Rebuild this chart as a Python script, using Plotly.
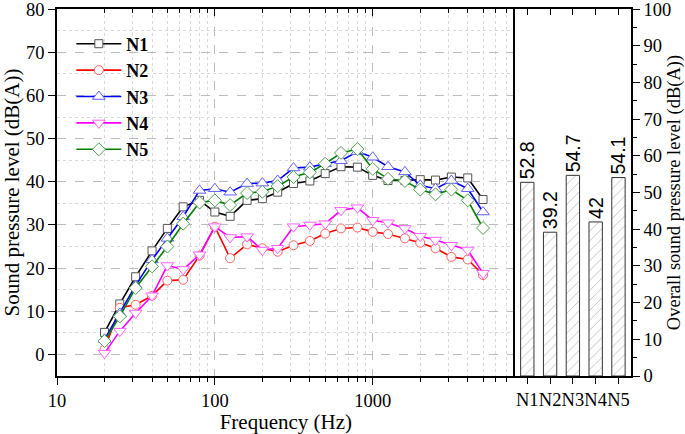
import plotly.graph_objects as go

freq = [20, 25, 31.5, 40, 50, 63, 80, 100, 125, 160, 200, 250, 315, 400, 500,
        630, 800, 1000, 1250, 1600, 2000, 2500, 3150, 4000, 5000]
n1 = [5.1, 11.7, 18.0, 24.0, 29.2, 34.2, 35.7, 33.0, 32.0, 35.7, 36.1, 37.6, 39.6, 40.2, 41.9,
      43.5, 43.4, 41.5, 40.3, 40.3, 40.5, 40.4, 41.1, 40.9, 35.9]
n2 = [1.2, 10.8, 11.5, 13.6, 17.1, 17.3, 22.9, 29.6, 22.3, 25.5, 24.6, 23.8, 25.3, 26.3, 28.0,
      29.2, 29.4, 28.4, 27.9, 26.9, 25.9, 24.6, 22.6, 22.0, 18.4]
n3 = [3.5, 9.5, 16.0, 21.9, 26.9, 31.9, 38.0, 38.4, 37.6, 39.6, 39.7, 40.3, 43.2, 43.4, 44.2,
      44.9, 47.0, 45.7, 43.5, 42.3, 39.2, 38.4, 40.3, 38.4, 33.0]
n4 = [0.3, 5.4, 9.6, 13.6, 20.6, 19.7, 23.1, 29.6, 27.1, 27.3, 24.2, 24.6, 29.6, 30.0, 30.3,
      33.4, 34.0, 31.1, 30.5, 29.2, 27.4, 26.5, 25.3, 24.2, 18.8]
n5 = [3.1, 8.8, 15.4, 20.4, 25.0, 30.3, 35.2, 35.7, 34.6, 37.4, 37.7, 39.0, 41.1, 42.2, 44.2,
      46.7, 47.6, 43.0, 40.7, 40.2, 38.2, 37.1, 38.2, 35.7, 29.3]

names = ["N1", "N2", "N3", "N4", "N5"]
overall = [52.8, 39.2, 54.7, 42, 54.1]

series = [n1, n2, n3, n4, n5]
line_colors = ["#000000", "#ff0000", "#0000ff", "#ff00ff", "#008000"]
marker_colors = ["#555555", "#ff6060", "#6060ff", "#ff60ff", "#50a050"]
symbols = ["square", "circle", "triangle-up", "triangle-down", "diamond"]
sizes = [8, 9, 11, 11, 10]

x_major = [10, 100, 1000]
x_minor = [d * m for m in (10, 100, 1000) for d in range(2, 10) if d * m < 8000]

SERIF = "Liberation Serif"
SANS = "Liberation Sans"

fig = go.Figure()

for nm, ys, lc, mc, sym, sz in zip(names, series, line_colors, marker_colors, symbols, sizes):
    fig.add_trace(go.Scatter(
        x=freq, y=ys, name=nm, mode="lines+markers",
        line=dict(color=lc, width=1.6),
        marker=dict(symbol=sym, size=sz, color="white", line=dict(color=mc, width=1)),
        xaxis="x", yaxis="y", cliponaxis=False,
    ))

fig.add_trace(go.Bar(
    x=names, y=overall, xaxis="x2", yaxis="y2", showlegend=False,
    text=[str(v) for v in overall], textposition="outside", textangle=-90,
    constraintext="none",
    textfont=dict(family=SANS, size=19.5, color="black"),
    marker=dict(color="white", line=dict(color="#333333", width=1),
                pattern=dict(shape="/", fgcolor="#777777", bgcolor="white", size=7, solidity=0.12)),
    cliponaxis=False,
))

# empty helper traces for the inward top ticks
fig.add_trace(go.Scatter(x=[], y=[], xaxis="x3", yaxis="y", showlegend=False, hoverinfo="skip"))
fig.add_trace(go.Scatter(x=[], y=[], xaxis="x4", yaxis="y2", showlegend=False, hoverinfo="skip"))

split = 0.7975
axis_common = dict(showline=True, linecolor="black", linewidth=1.6, tickcolor="black",
                   tickwidth=1.4, automargin=False, ticklabeloverflow="allow",
                   tickfont=dict(family=SERIF, size=18.5, color="black"))

fig.update_layout(
    width=685, height=434,
    margin=dict(l=57, r=54, t=9, b=58),
    paper_bgcolor="white", plot_bgcolor="white",
    font=dict(family=SERIF, size=18, color="black"),
    bargap=0.415,
    showlegend=True,
    legend=dict(x=0.025, y=0.955, xanchor="left", yanchor="top",
                bgcolor="rgba(0,0,0,0)", font=dict(family=SERIF, size=18, color="black", weight="bold"),
                tracegroupgap=0, itemwidth=45),
    xaxis=dict(
        type="log", range=[1, 3.9], domain=[0, split], anchor="y",
        tickmode="array", tickvals=x_major, ticktext=[str(v) for v in x_major],
        ticks="outside", ticklen=7, mirror=True,
        showgrid=True, gridcolor="#bdbdbd", griddash="dash", gridwidth=1,
        minor=dict(tickmode="array", tickvals=x_minor, ticks="outside", ticklen=4,
                   tickcolor="black", showgrid=True, gridcolor="#d9d9d9", griddash="dot"),
        title=dict(text="Frequency (Hz)", font=dict(family=SERIF, size=21), standoff=6),
        zeroline=False, **axis_common,
    ),
    xaxis3=dict(
        type="log", range=[1, 3.9], overlaying="x", side="top", anchor="y",
        tickmode="array", tickvals=x_major, showticklabels=False,
        ticks="inside", ticklen=7, tickcolor="black", tickwidth=1.4, showgrid=False,
        minor=dict(tickmode="array", tickvals=x_minor, ticks="inside", ticklen=4,
                   tickcolor="black", showgrid=False),
        showline=False, zeroline=False, automargin=False,
    ),
    yaxis=dict(
        range=[-5, 80.05], domain=[0, 1], anchor="x",
        tick0=0, dtick=10, ticks="outside", ticklen=7, mirror=False,
        showgrid=True, gridcolor="#bdbdbd", griddash="dash", gridwidth=1,
        minor=dict(dtick=5, tick0=0, showgrid=True, gridcolor="#d9d9d9", griddash="dot"),
        title=dict(text="Sound pressure level (dB(A))", font=dict(family=SERIF, size=21), standoff=6),
        zeroline=False, **axis_common,
    ),
    xaxis2=dict(
        type="category", domain=[split, 1], anchor="y2", range=[-0.55, 4.55],
        ticks="outside", ticklen=6, mirror=True, showgrid=False, zeroline=False,
        tickangle=0, **axis_common,
    ),
    xaxis4=dict(
        range=[-0.55, 4.55], overlaying="x2", side="top", anchor="y2",
        tickmode="array", tickvals=[0, 1, 2, 3, 4], showticklabels=False,
        ticks="inside", ticklen=6, tickcolor="black", tickwidth=1.4,
        showgrid=False, showline=False, zeroline=False, automargin=False,
    ),
    yaxis2=dict(
        range=[0, 100.05], anchor="x2", side="right", domain=[0, 1],
        tick0=0, dtick=10, ticks="outside", ticklen=7, mirror=True, showgrid=False,
        minor=dict(dtick=5, tick0=0, ticks="outside", ticklen=4, tickcolor="black", showgrid=False),
        title=dict(text="Overall sound pressure level (dB(A))", font=dict(family=SERIF, size=18.5), standoff=6),
        zeroline=False, **axis_common,
    ),
)

fig.write_html(
    "out.html",
    config={"displayModeBar": False},
    post_script="document.body.style.margin='0';document.body.style.padding='0';document.body.style.overflow='hidden';",
)
